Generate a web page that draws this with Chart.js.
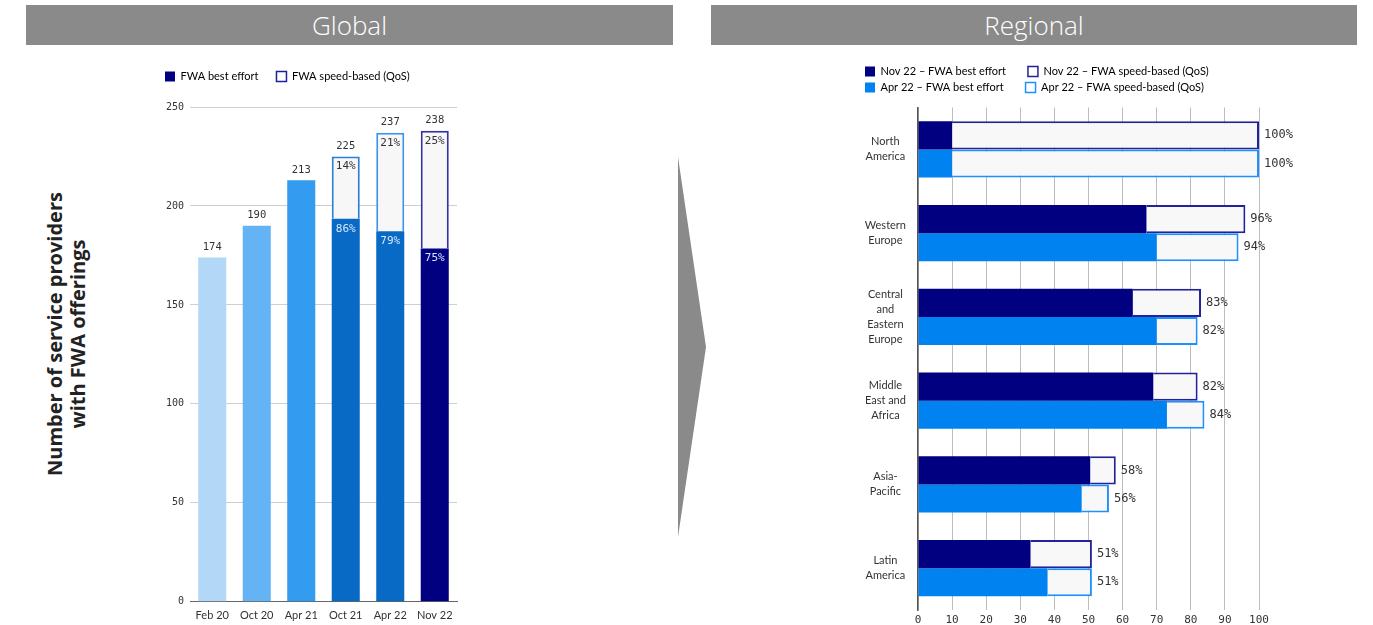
<!DOCTYPE html>
<html>
<head>
<meta charset="utf-8">
<title>FWA offerings</title>
<script src="https://cdn.jsdelivr.net/npm/chart.js@4.4.0/dist/chart.umd.min.js"></script>
<style>
  body { margin: 0; width: 1373px; height: 625px; background: #fff; position: relative; overflow: hidden; font-family: Lato, sans-serif; }
  .banner { position: absolute; top: 5px; height: 40px; background: #8a8a8a; color: #fff;
            font: 300 26px "Open Sans", sans-serif; line-height: 40px; text-align: center; }
  #arrow { position: absolute; left: 678px; top: 157px; width: 28px; height: 380px; background: #8a8a8a;
           clip-path: polygon(0 0, 100% 50%, 0 100%); }
  #yTitle { position: absolute; left: -94.5px; top: 311px; width: 320px; height: 46px; transform: rotate(-90deg);
            font: 700 20px/23px "Open Sans", sans-serif; color: #222; text-align: center; }
  canvas { position: absolute; }
  #globalChart { left: 147px; top: 53px; }
  #regionalChart { left: 860px; top: 61px; }
</style>
</head>
<body>
<div class="banner" style="left:26px;width:647px">Global</div>
<div class="banner" style="left:711px;width:646px">Regional</div>
<div id="arrow"></div>
<div id="yTitle">Number of service providers<br>with FWA offerings</div>
<canvas id="globalChart" width="315" height="576"></canvas>
<canvas id="regionalChart" width="450" height="576"></canvas>
<script>
// Global: number of service providers with FWA offerings per survey
const periods = ['Feb 20', 'Oct 20', 'Apr 21', 'Oct 21', 'Apr 22', 'Nov 22'];
const totalProviders = [174, 190, 213, 225, 237, 238];
const bestEffortShare = [null, null, null, 86, 79, 75];
const qosShare = [null, null, null, 14, 21, 25];

// Regional: share of providers offering FWA (%)
const regions = [['North', 'America'], ['Western', 'Europe'], ['Central', 'and', 'Eastern', 'Europe'],
                 ['Middle', 'East and', 'Africa'], ['Asia-', 'Pacific'], ['Latin', 'America']];
const nov22Total = [100, 96, 83, 82, 58, 51];
const nov22BestEffort = [10, 67, 63, 69, 50.5, 33];
const apr22Total = [100, 94, 82, 84, 56, 51];
const apr22BestEffort = [10, 70, 70, 73, 48, 38];

const barColors = ['#b2d7f7', '#64b4f5', '#339bf0', '#086ac4', '#086ac4', '#000080'];
const qosBorders = ['#fff', '#fff', '#fff', '#2b7fd6', '#3b95ee', '#3333a6'];
const mono = '"DejaVu Sans Mono", monospace';

// split the stacked bars into best effort and QoS parts
const globalBest = totalProviders.map((t, i) => bestEffortShare[i] == null ? t : t * bestEffortShare[i] / 100);
const globalQos = totalProviders.map((t, i) => qosShare[i] == null ? null : t * qosShare[i] / 100);
const novQos = nov22Total.map((t, i) => t - nov22BestEffort[i]);
const aprQos = apr22Total.map((t, i) => t - apr22BestEffort[i]);

// extra room below the legend
const legendGap = (gap) => ({
  id: 'legendGap',
  beforeInit(chart) {
    const fit = chart.legend.fit;
    chart.legend.fit = function () { fit.call(this); this.height += gap; };
  }
});

const globalLabels = {
  id: 'globalLabels',
  afterDatasetsDraw(chart) {
    const ctx = chart.ctx;
    const best = chart.getDatasetMeta(0).data;
    const qos = chart.getDatasetMeta(1).data;
    ctx.save();
    ctx.textAlign = 'center';
    ctx.textBaseline = 'middle';
    periods.forEach((p, i) => {
      const top = qosShare[i] == null ? best[i] : qos[i];
      ctx.fillStyle = '#333';
      ctx.font = '10.5px ' + mono;
      ctx.fillText(totalProviders[i], top.x, top.y - 10);
      if (qosShare[i] == null) return;
      ctx.font = '11px ' + mono;
      ctx.fillText(qosShare[i] + '%', qos[i].x, qos[i].y + 10);
      ctx.fillStyle = '#d6e8ff';
      ctx.fillText(bestEffortShare[i] + '%', best[i].x, best[i].y + 10);
    });
    ctx.restore();
  }
};

const regionalLabels = {
  id: 'regionalLabels',
  afterDatasetsDraw(chart) {
    const ctx = chart.ctx;
    ctx.save();
    ctx.font = '12px ' + mono;
    ctx.fillStyle = '#333';
    ctx.textAlign = 'left';
    ctx.textBaseline = 'middle';
    [[1, nov22Total], [3, apr22Total]].forEach(([idx, totals]) => {
      chart.getDatasetMeta(idx).data.forEach((el, i) => {
        ctx.fillText(totals[i] + '%', el.x + 5, el.y);
      });
    });
    ctx.restore();
  }
};

new Chart(document.getElementById('globalChart'), {
  type: 'bar',
  data: {
    labels: periods,
    datasets: [
      { label: 'FWA best effort', data: globalBest, backgroundColor: barColors,
        barPercentage: 0.63, categoryPercentage: 1 },
      { label: 'FWA speed-based (QoS)', data: globalQos, backgroundColor: '#f7f7f7',
        borderColor: qosBorders, borderWidth: 2, barPercentage: 0.63, categoryPercentage: 1 }
    ]
  },
  options: {
    responsive: false,
    animation: false,
    layout: { padding: { right: 5 } },
    plugins: {
      tooltip: { enabled: false },
      legend: {
        align: 'start',
        labels: {
          boxWidth: 10, boxHeight: 10, padding: 18, color: '#333',
          font: { family: 'Lato', size: 11 },
          generateLabels: (chart) => chart.data.datasets.map((ds, i) => ({
            text: ds.label, datasetIndex: i,
            fillStyle: i === 0 ? '#000080' : '#fff',
            strokeStyle: '#1f1f9a', lineWidth: i === 0 ? 0 : 1.5
          }))
        }
      }
    },
    scales: {
      x: {
        stacked: true,
        grid: { display: false, drawTicks: false },
        border: { color: '#666' },
        ticks: { color: '#333', padding: 7, font: { family: 'Lato', size: 11 } }
      },
      y: {
        stacked: true, min: 0, max: 250,
        grid: { color: '#cfcfcf', drawTicks: false },
        border: { display: false },
        ticks: { stepSize: 50, color: '#333', padding: 6, font: { family: 'DejaVu Sans Mono', size: 10 } },
        afterFit: (s) => { s.width = 43; }
      }
    }
  },
  plugins: [legendGap(15), globalLabels]
});

new Chart(document.getElementById('regionalChart'), {
  type: 'bar',
  data: {
    labels: regions,
    datasets: [
      { label: 'Nov 22 \u2013 FWA best effort', data: nov22BestEffort, stack: 'nov', backgroundColor: '#000080' },
      { label: 'Nov 22 \u2013 FWA speed-based (QoS)', data: novQos, stack: 'nov', backgroundColor: '#f8f8f8',
        borderColor: '#22229a', borderWidth: 2 },
      { label: 'Apr 22 \u2013 FWA best effort', data: apr22BestEffort, stack: 'apr', backgroundColor: '#0082f0' },
      { label: 'Apr 22 \u2013 FWA speed-based (QoS)', data: aprQos, stack: 'apr', backgroundColor: '#f8f8f8',
        borderColor: '#1f90ff', borderWidth: 2 }
    ]
  },
  options: {
    responsive: false,
    animation: false,
    indexAxis: 'y',
    datasets: { bar: { barPercentage: 1, categoryPercentage: 0.67 } },
    layout: { padding: { right: 51 } },
    plugins: {
      tooltip: { enabled: false },
      legend: {
        align: 'start',
        labels: {
          boxWidth: 10, boxHeight: 10, padding: 5, color: '#333',
          font: { family: 'Lato', size: 11 },
          generateLabels: (chart) => chart.data.datasets.map((ds, i) => ({
            // first column gets trailing space so the second column lines up
            text: i % 2 === 0 ? ds.label + '\u00a0'.repeat(6) : ds.label,
            datasetIndex: i,
            fillStyle: i % 2 === 0 ? ds.backgroundColor : '#fff',
            strokeStyle: i % 2 === 0 ? ds.backgroundColor : ds.borderColor,
            lineWidth: i % 2 === 0 ? 0 : 1.5
          }))
        }
      }
    },
    scales: {
      x: {
        stacked: true, min: 0, max: 100,
        grid: { color: '#bdbdbd', drawTicks: false },
        border: { display: false },
        ticks: { stepSize: 10, color: '#333', padding: 4, font: { family: 'DejaVu Sans Mono', size: 11 } }
      },
      y: {
        stacked: true,
        grid: { display: false, drawTicks: false },
        border: { color: '#555', width: 1.5 },
        ticks: { crossAlign: 'center', padding: 12, color: '#333',
                 font: { family: 'Lato', size: 11, lineHeight: 1.36 } },
        afterFit: (s) => { s.width = 58; }
      }
    }
  },
  plugins: [legendGap(4.5), regionalLabels]
});
</script>
</body>
</html>
